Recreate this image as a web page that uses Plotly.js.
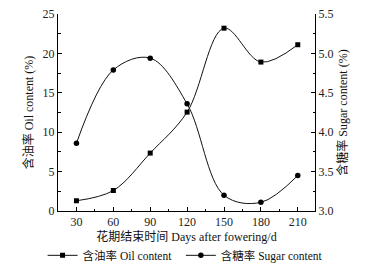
<!DOCTYPE html>
<html>
<head>
<meta charset="utf-8">
<script src="https://cdn.plot.ly/plotly-3.0.1.min.js"></script>
<style>html,body{margin:0;padding:0;background:#fff;}#chart{width:390px;height:271px;}</style>
</head>
<body>
<div id="chart"></div>
<script>
const days = [30, 60, 90, 120, 150, 180, 210];
const oilContent = [1.3, 2.6, 7.35, 12.55, 23.2, 18.9, 21.1];
const sugarContent = [3.86, 4.79, 4.94, 4.36, 3.2, 3.11, 3.45];
const xTicks = [30, 60, 90, 120, 150, 180, 210];
const oilName = '含油率 Oil content';
const sugarName = '含糖率 Sugar content';

const FONT = '"Liberation Serif", "Times New Roman", "Noto Sans CJK SC", serif';

const traces = [
  {
    x: days, y: oilContent, name: oilName, type: 'scatter', mode: 'lines+markers',
    line: {shape: 'spline', smoothing: 1, color: '#111', width: 1},
    marker: {symbol: 'square', size: 5, color: '#000'},
    yaxis: 'y', legend: 'legend'
  },
  {
    x: days, y: sugarContent, name: sugarName, type: 'scatter', mode: 'lines+markers',
    line: {shape: 'spline', smoothing: 1, color: '#111', width: 1},
    marker: {symbol: 'circle', size: 5.5, color: '#000'},
    yaxis: 'y2', legend: 'legend2'
  }
];

const axisCommon = {
  showgrid: false, zeroline: false, showline: true, linecolor: '#000', linewidth: 1,
  ticks: 'inside', ticklen: 4, tickcolor: '#000', tickwidth: 1,
  tickfont: {family: FONT, size: 12, color: '#222'}, automargin: false
};

const legendCommon = {
  orientation: 'h', y: -0.225, yanchor: 'middle', xanchor: 'left',
  font: {family: FONT, size: 11.5, color: '#111'}, itemwidth: 30,
  bgcolor: 'rgba(0,0,0,0)', borderwidth: 0
};

const layout = {
  width: 390, height: 271,
  margin: {l: 58, r: 75, t: 14, b: 60, autoexpand: false},
  paper_bgcolor: '#fff', plot_bgcolor: '#fff',
  font: {family: FONT, size: 12, color: '#111'},
  showlegend: true,
  legend: Object.assign({}, legendCommon, {x: -0.06}),
  legend2: Object.assign({}, legendCommon, {x: 0.478}),
  xaxis: Object.assign({}, axisCommon, {
    range: [15, 224], tickvals: xTicks, ticktext: xTicks.map(String),
    minor: {dtick: 15, tick0: 15, ticks: 'inside', ticklen: 2.5, tickcolor: '#000'},
    title: {text: '花期结束时间 Days after fowering/d', font: {family: FONT, size: 12, color: '#111'}, standoff: 4}
  }),
  yaxis: Object.assign({}, axisCommon, {
    range: [0, 25], dtick: 5, tick0: 0,
    minor: {dtick: 2.5, ticks: 'inside', ticklen: 2.5, tickcolor: '#000'},
    title: {text: '含油率 Oil content (%)', font: {family: FONT, size: 12, color: '#111'}, standoff: 6}
  }),
  yaxis2: Object.assign({}, axisCommon, {
    overlaying: 'y', side: 'right', range: [3.0, 5.5], dtick: 0.5, tick0: 3,
    tickformat: '.1f',
    minor: {dtick: 0.25, ticks: 'inside', ticklen: 2.5, tickcolor: '#000'},
    title: {text: '含糖率 Sugar content (%)', font: {family: FONT, size: 12, color: '#111'}, standoff: 6}
  })
};

Plotly.newPlot('chart', traces, layout, {displayModeBar: false, staticPlot: true});
</script>
</body>
</html>
